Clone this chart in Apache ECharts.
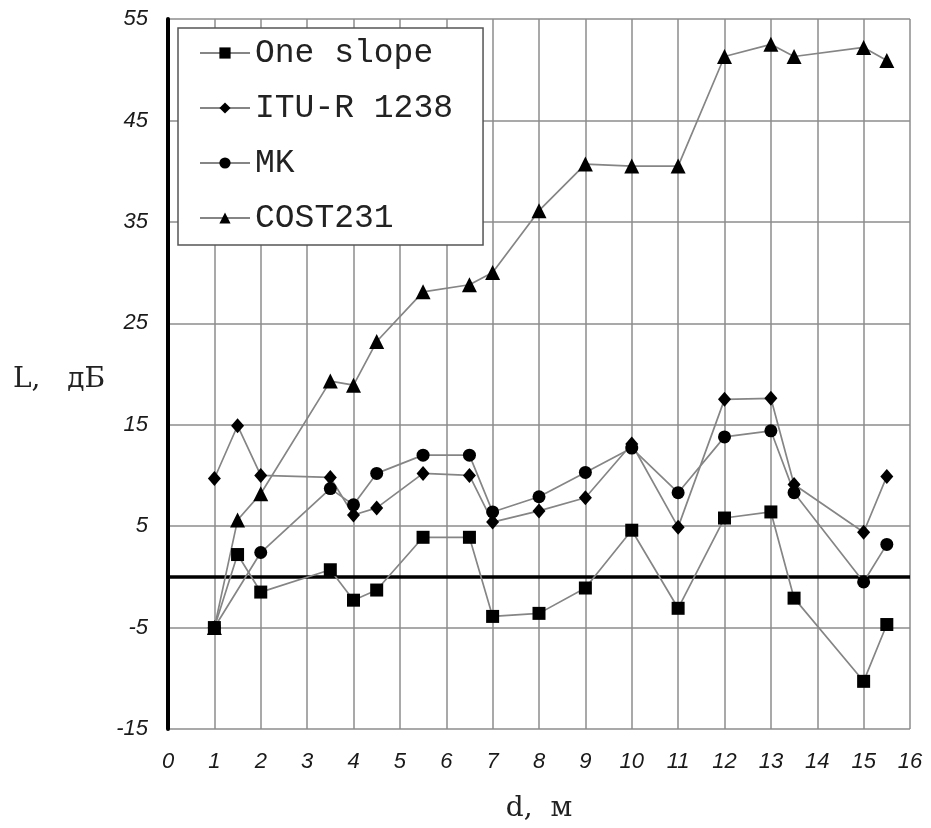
<!DOCTYPE html>
<html>
<head>
<meta charset="utf-8">
<style>
  html, body { margin: 0; padding: 0; background: #fff; }
  #chart-container { width: 931px; height: 828px; }
</style>
<script src="https://cdn.jsdelivr.net/npm/echarts@6/dist/echarts.min.js"></script>
</head>
<body>
<div id="chart-container"></div>
<script>
var dom = document.getElementById('chart-container');
var myChart = echarts.init(dom, null, { renderer: 'canvas' });

// distance, m
var distances = [1, 1.5, 2, 3.5, 4, 4.5, 5.5, 6.5, 7, 8, 9, 10, 11, 12, 13, 13.5, 15, 15.5];
// L, dB
var oneSlope = [-5, 2.2, -1.5, 0.7, -2.3, -1.3, 3.9, 3.9, -3.9, -3.6, -1.1, 4.6, -3.1, 5.8, 6.4, -2.1, -10.3, -4.7];
var ituR1238 = [9.7, 14.9, 10.0, 9.8, 6.1, 6.8, 10.2, 10.0, 5.4, 6.5, 7.8, 13.1, 4.9, 17.5, 17.6, 9.1, 4.4, 9.9];
var mk = [-5, null, 2.4, 8.7, 7.1, 10.2, 12.0, 12.0, 6.4, 7.9, 10.3, 12.7, 8.3, 13.8, 14.4, 8.3, -0.5, 3.2];
var cost231 = [-5, 5.6, 8.2, 19.3, 18.9, 23.2, 28.1, 28.8, 30.0, 36.1, 40.7, 40.5, 40.5, 51.3, 52.5, 51.3, 52.2, 50.9];

var seriesNames = ['One slope', 'ITU-R 1238', 'MK', 'COST231'];
var xTicks = { min: 0, max: 16, step: 1 };
var yTicks = { min: -15, max: 55, step: 10 };

function pairs(vals) {
  var out = [];
  for (var i = 0; i < distances.length; i++) {
    if (vals[i] !== null) out.push([distances[i], vals[i]]);
  }
  return out;
}

var lineGray = '#858585';
var gridGray = '#8c8c8c';
var tickFont = { fontFamily: 'Liberation Sans', fontStyle: 'italic', fontSize: 22, color: '#1a1a1a' };

function makeSeries(name, vals, symbol, size) {
  return {
    name: name,
    type: 'line',
    data: pairs(vals),
    symbol: symbol,
    symbolSize: size,
    showSymbol: true,
    itemStyle: { color: '#000' },
    lineStyle: { color: lineGray, width: 1.7 },
    emphasis: { disabled: true },
    z: 3
  };
}

var series = [
  makeSeries(seriesNames[0], oneSlope, 'rect', 13),
  makeSeries(seriesNames[1], ituR1238, 'diamond', [13, 15]),
  makeSeries(seriesNames[2], mk, 'circle', 13),
  makeSeries(seriesNames[3], cost231, 'triangle', 15)
];

// thick zero line
series[0].markLine = {
  silent: true,
  symbol: 'none',
  label: { show: false },
  lineStyle: { color: '#000', width: 3.5, type: 'solid' },
  data: [{ yAxis: 0 }],
  z: 2
};

var option = {
  animation: false,
  backgroundColor: '#fff',
  grid: { left: 168, right: 21, top: 19, bottom: 95, containLabel: false },
  legend: {
    orient: 'vertical',
    left: 178,
    top: 28,
    data: seriesNames,
    itemWidth: 50,
    itemHeight: 14,
    itemGap: 21,
    padding: [8, 30, 10, 21],
    backgroundColor: '#fff',
    borderColor: '#555',
    borderWidth: 1.5,
    borderRadius: 0,
    textStyle: { fontFamily: 'Liberation Mono', fontSize: 33, lineHeight: 34, color: '#222' }
  },
  xAxis: {
    type: 'value',
    min: xTicks.min,
    max: xTicks.max,
    interval: xTicks.step,
    name: 'd,  м',
    nameLocation: 'middle',
    nameGap: 66,
    nameTextStyle: { fontFamily: 'DejaVu Serif', fontSize: 28, color: '#222' },
    axisLine: { show: false, onZero: false },
    axisTick: { show: false },
    axisLabel: Object.assign({ margin: 22 }, tickFont),
    splitLine: { show: true, lineStyle: { color: gridGray, width: 1.5 } }
  },
  yAxis: {
    type: 'value',
    min: yTicks.min,
    max: yTicks.max,
    interval: yTicks.step,
    axisLine: { show: true, onZero: false, lineStyle: { color: '#000', width: 4 } },
    axisTick: { show: false },
    axisLabel: Object.assign({ margin: 20 }, tickFont),
    splitLine: { show: true, lineStyle: { color: gridGray, width: 1.5 } }
  },
  graphic: [{
    type: 'text',
    left: 13,
    top: 366,
    style: { text: 'L,   дБ', font: '28px "DejaVu Serif"', fill: '#222' }
  }],
  series: series
};

myChart.setOption(option);
window.addEventListener('resize', myChart.resize);
</script>
</body>
</html>
